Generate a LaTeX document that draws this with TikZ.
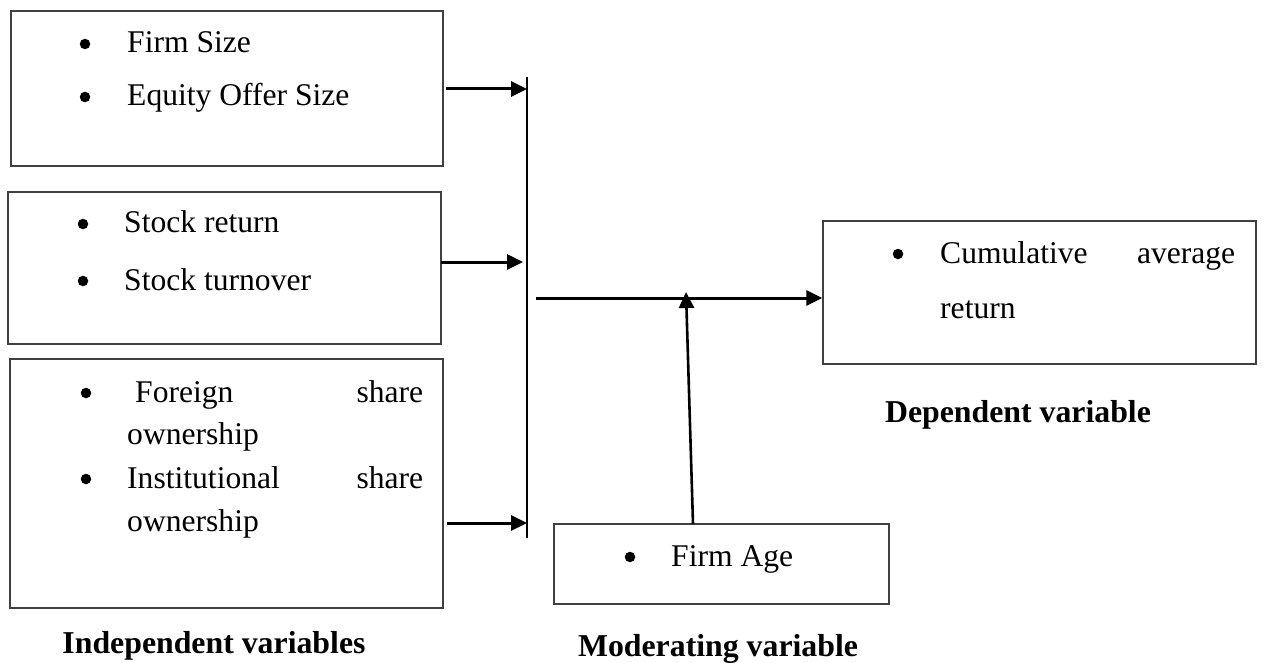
\documentclass[tikz,border=0pt]{standalone}
\usepackage{fontspec}
\setmainfont{Liberation Serif}
\usetikzlibrary{arrows.meta}
\begin{document}
\begin{tikzpicture}[x=1pt,y=-1pt,
  box/.style={draw=black!75,line width=1.3pt,inner sep=0pt,minimum width=#1},
  txt/.style={inner sep=0pt,anchor=base west,font=\fontsize{31.6}{38}\selectfont},
  bul/.style={circle,fill=black,inner sep=0pt,minimum size=10.5pt},
  lbl/.style={inner sep=0pt,anchor=base,font=\fontsize{31.8}{38}\selectfont\bfseries},
  arr/.style={line width=3pt,-{Triangle[length=16pt,width=15pt]}},
  barline/.style={line width=1.8pt}]
\useasboundingbox (0,0) rectangle (1263,663);
% boxes
\node[box=432pt,minimum height=155pt] (b1) at (227,88.5) {};
\node[box=433pt,minimum height=152pt] (b2) at (224.5,268) {};
\node[box=433pt,minimum height=249pt] (b3) at (226.5,483.5) {};
\node[box=433pt,minimum height=143pt] (b4) at (1039.5,292.5) {};
\node[box=335pt,minimum height=80pt] (b5) at (721.5,564) {};
% box 1 text
\node[bul] (u11) at (85,44) {};
\node[txt] (t11) at (127,53) {Firm Size};
\node[bul] (u12) at (85,97) {};
\node[txt] (t12) at (127,106) {Equity Offer Size};
% box 2 text
\node[bul] (u21) at (83,224) {};
\node[txt] (t21) at (124,233) {Stock return};
\node[bul] (u22) at (83,281) {};
\node[txt] (t22) at (124,290) {Stock turnover};
% box 3 text
\node[bul] (u31) at (86,393) {};
\node[txt] (t31) at (127,402) {\makebox[296pt]{\hspace{8pt}Foreign\hfill share}};
\node[txt] (t32) at (127,444) {ownership};
\node[bul] (u32) at (86,479) {};
\node[txt] (t33) at (127,488) {\makebox[296pt]{Institutional\hfill share}};
\node[txt] (t34) at (127,531) {ownership};
% box 4 text
\node[bul] (u41) at (898,254) {};
\node[txt] (t41) at (940,263) {\makebox[295pt]{Cumulative\hfill average}};
\node[txt] (t42) at (940,318) {return};
% box 5 text
\node[bul] (u51) at (630,557) {};
\node[txt] (t51) at (671,566) {Firm Age};
% labels
\node[lbl] (l1) at (214,653) {Independent variables};
\node[lbl] (l2) at (1018,422) {Dependent variable};
\node[lbl] (l3) at (718,656) {Moderating variable};
% bar
\coordinate (bartop) at (527,77);
\coordinate (barbot) at (527,538);
\draw[barline] (bartop) -- (barbot);
% arrows into bar
\coordinate (a1s) at (446,89);
\coordinate (a1e) at (527,89);
\coordinate (a2s) at (441,262);
\coordinate (a2e) at (523,262);
\coordinate (a3s) at (447,523);
\coordinate (a3e) at (527,523);
\draw[arr] (a1s) -- (a1e);
\draw[arr] (a2s) -- (a2e);
\draw[arr] (a3s) -- (a3e);
% main arrow
\coordinate (ms) at (536,298);
\draw[arr] (ms) -- (ms -| b4.west);
% moderating arrow
\coordinate (vs) at (693,524);
\coordinate (vt) at (686,292);
\draw[line width=2.6pt,-{Triangle[length=16pt,width=15pt]}] (vs) -- (vt);
\end{tikzpicture}
\end{document}
